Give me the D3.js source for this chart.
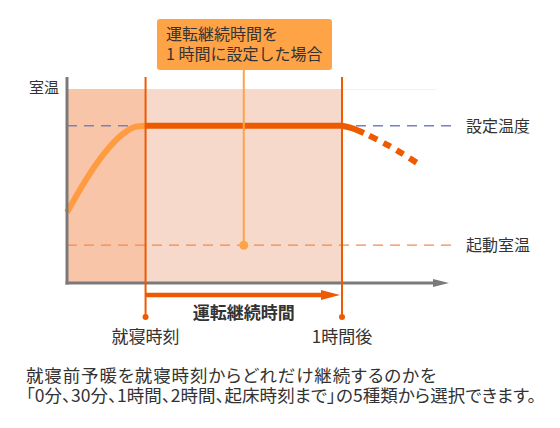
<!DOCTYPE html>
<html>
<head>
<meta charset="utf-8">
<script src="https://cdn.jsdelivr.net/npm/d3@7"></script>
<style>
  html, body { margin: 0; padding: 0; background: #fff; }
  svg { display: block; }
  text { font-family: "Noto Sans CJK JP", "Noto Sans", sans-serif; fill: #333; }
  .palt { font-feature-settings: "palt"; }
</style>
</head>
<body>
<svg id="chart" width="560" height="428"></svg>
<script>
// Time in minutes relative to bedtime, temperature in °C (illustrative)
const timeDomain = [-24, 93];
const tempDomain = [10.2, 29.7];
const bedtime = 0;
const runEnd = 60;
const setTemp = 26;
const startTemp = 14;
const panelEnd = 89;

// Pre-heating ramp before bedtime
const warmupT = [-24, -17.7, -12.5, -7.3, -3.3, 0];
const warmupV = [17.3, 20.85, 23.27, 25.08, 25.88, 26];
// Holding the set temperature during the run time
const holdT = [0, 60];
const holdV = [26, 26];
// Cooling after the run stops (solid start, then dashed)
const coolSolidT = [60, 63, 66.7];
const coolSolidV = [26, 25.77, 25.27];
const coolDashT = [66.7, 74.3, 82.8];
const coolDashV = [25.27, 24.0, 22.3];

const markerTimes = [bedtime, runEnd];
const markerLabels = ["就寝時刻", "1時間後"];
const levelValues = [setTemp, startTemp];
const levelLabels = ["設定温度", "起動室温"];
const yAxisLabel = "室温";
const runLabel = "運転継続時間";
const calloutLines = ["運転継続時間を", "1 時間に設定した場合"];
const noteLines = [
  "就寝前予暖を就寝時刻からどれだけ継続するのかを",
  "「0分、30分、1時間、2時間、起床時刻まで」の5種類から選択できます。"
];
const noteWidths = [410, 510];

const svg = d3.select("#chart");
const x = d3.scaleLinear().domain(timeDomain).range([67, 450]);
const y = d3.scaleLinear().domain(tempDomain).range([283, 89]);

const pts = (ts, vs) => ts.map((t, i) => [x(t), y(vs[i])]);
const line = d3.line().curve(d3.curveMonotoneX);

const dark = "#ee5a00";
const light = "#ff9b40";

// Shaded phases
svg.append("rect")
  .attr("x", x(timeDomain[0])).attr("y", y(tempDomain[1]))
  .attr("width", x(bedtime) - x(timeDomain[0]))
  .attr("height", y(tempDomain[0]) - y(tempDomain[1]))
  .attr("fill", "#f9c5a8");
svg.append("rect")
  .attr("x", x(bedtime)).attr("y", y(tempDomain[1]))
  .attr("width", x(runEnd) - x(bedtime))
  .attr("height", y(tempDomain[0]) - y(tempDomain[1]))
  .attr("fill", "#f6d9ca");
svg.append("line")
  .attr("x1", x(runEnd)).attr("x2", x(panelEnd))
  .attr("y1", y(tempDomain[1]) + 0.5).attr("y2", y(tempDomain[1]) + 0.5)
  .attr("stroke", "#f3f3f3").attr("stroke-width", 1);

// Reference levels
svg.append("line")
  .attr("x1", x(timeDomain[0])).attr("x2", x(timeDomain[1]) + 1)
  .attr("y1", y(setTemp)).attr("y2", y(setTemp))
  .attr("stroke", "#7482c0").attr("stroke-width", 1.5)
  .attr("stroke-dasharray", "10,7");
svg.append("line")
  .attr("x1", x(timeDomain[0])).attr("x2", x(timeDomain[1]) + 1)
  .attr("y1", y(startTemp)).attr("y2", y(startTemp))
  .attr("stroke", "#f08a50").attr("stroke-width", 1.2)
  .attr("stroke-dasharray", "10,7");

// Temperature curve
svg.append("path").attr("d", line(pts(warmupT, warmupV)))
  .attr("fill", "none").attr("stroke", light).attr("stroke-width", 6);
svg.append("path").attr("d", line(pts(holdT, holdV)))
  .attr("fill", "none").attr("stroke", dark).attr("stroke-width", 6);
svg.append("path").attr("d", line(pts(coolSolidT, coolSolidV)))
  .attr("fill", "none").attr("stroke", dark).attr("stroke-width", 6);
svg.append("path").attr("d", line(pts(coolDashT, coolDashV)))
  .attr("fill", "none").attr("stroke", dark).attr("stroke-width", 6)
  .attr("stroke-dasharray", "0,6,9,7,8,7,8,7,9");

// Axes
const axisColor = "#7a7a7a";
svg.append("line")
  .attr("x1", x(timeDomain[0])).attr("x2", x(timeDomain[0]))
  .attr("y1", 77).attr("y2", y(tempDomain[0]) + 1.5)
  .attr("stroke", axisColor).attr("stroke-width", 3);
svg.append("line")
  .attr("x1", x(timeDomain[0]) - 1.5).attr("x2", 436)
  .attr("y1", y(tempDomain[0])).attr("y2", y(tempDomain[0]))
  .attr("stroke", axisColor).attr("stroke-width", 3);
svg.append("path")
  .attr("d", `M433,${y(tempDomain[0]) - 4}L449,${y(tempDomain[0])}L433,${y(tempDomain[0]) + 4}Z`)
  .attr("fill", axisColor);

// Bedtime / end-of-run markers
markerTimes.forEach((t, i) => {
  svg.append("line")
    .attr("x1", x(t)).attr("x2", x(t))
    .attr("y1", 77).attr("y2", 317)
    .attr("stroke", dark).attr("stroke-width", 2);
  svg.append("circle").attr("cx", x(t)).attr("cy", 317).attr("r", 3).attr("fill", dark);
  svg.append("text").attr("x", x(t)).attr("y", 343)
    .attr("text-anchor", "middle").attr("font-size", 17)
    .text(markerLabels[i]);
});

// Run duration arrow
const arrowY = 295;
svg.append("line")
  .attr("x1", x(bedtime)).attr("x2", x(runEnd) - 18)
  .attr("y1", arrowY).attr("y2", arrowY)
  .attr("stroke", dark).attr("stroke-width", 4.5);
svg.append("path")
  .attr("d", `M${x(runEnd) - 21},${arrowY - 5}L${x(runEnd) - 2},${arrowY}L${x(runEnd) - 21},${arrowY + 5}Z`)
  .attr("fill", dark);
svg.append("text")
  .attr("x", x((bedtime + runEnd) / 2)).attr("y", 319)
  .attr("text-anchor", "middle").attr("font-size", 17).attr("font-weight", "bold")
  .text(runLabel);

// Callout pointing to the run period
const calloutT = (bedtime + runEnd) / 2;
svg.append("line")
  .attr("x1", x(calloutT)).attr("x2", x(calloutT))
  .attr("y1", 60).attr("y2", y(startTemp))
  .attr("stroke", "#ffa347").attr("stroke-width", 2);
svg.append("circle").attr("cx", x(calloutT)).attr("cy", y(startTemp)).attr("r", 4.5)
  .attr("fill", "#ffa347");
svg.append("rect")
  .attr("x", 157).attr("y", 19).attr("width", 175).attr("height", 51).attr("rx", 3)
  .attr("fill", "#ffa347");
const callout = svg.append("text").attr("font-size", 16);
calloutLines.forEach((s, i) => {
  callout.append("tspan").attr("x", 166).attr("y", 40 + i * 20).text(s);
});

// Level labels
levelValues.forEach((v, i) => {
  svg.append("text").attr("x", 466).attr("y", y(v) + 6)
    .attr("font-size", 16).text(levelLabels[i]);
});
svg.append("text").attr("x", 59).attr("y", 93)
  .attr("text-anchor", "end").attr("font-size", 15).text(yAxisLabel);

// Explanatory note
const note = svg.append("text").attr("class", "palt").attr("font-size", 17.5);
noteLines.forEach((s, i) => {
  note.append("tspan").attr("x", 26).attr("y", 382 + i * 20)
    .attr("textLength", noteWidths[i]).attr("lengthAdjust", "spacing")
    .text(s);
});
</script>
</body>
</html>
